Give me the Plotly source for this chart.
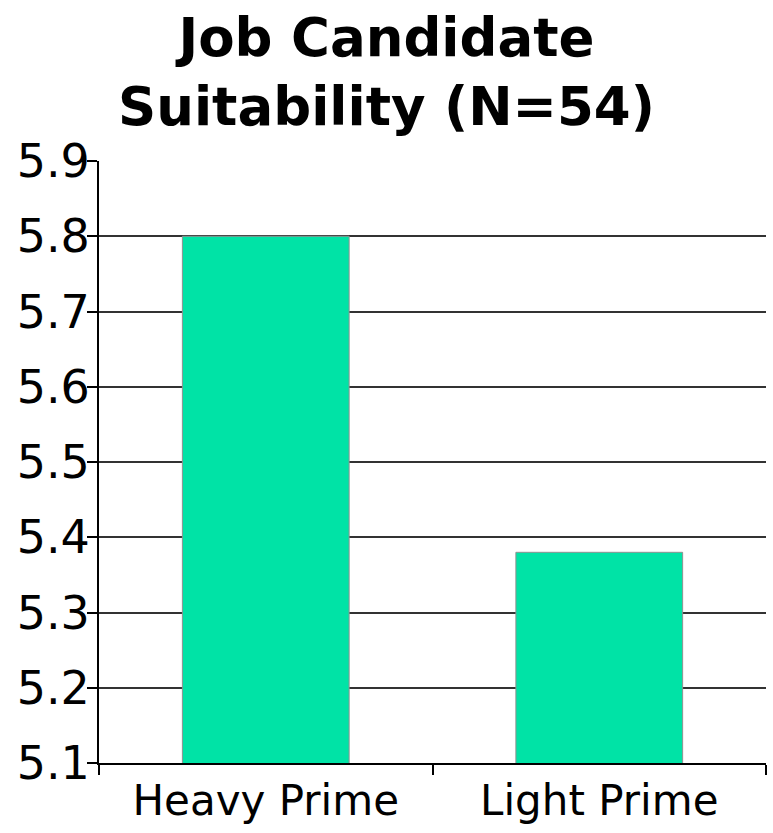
import plotly.graph_objects as go

categories = ["Heavy Prime", "Light Prime"]
values = [5.80, 5.38]
y_ticks = [5.1, 5.2, 5.3, 5.4, 5.5, 5.6, 5.7, 5.8, 5.9]
title_text = "Job Candidate<br>Suitability (N=54)"

fig = go.Figure(go.Bar(
    x=categories, y=values, width=0.5,
    marker=dict(color="#00E3A6", line=dict(color="#909090", width=1)),
))

fig.update_layout(
    width=773, height=833,
    margin=dict(l=99, r=7, t=161, b=70),
    paper_bgcolor="white", plot_bgcolor="white",
    font=dict(family="DejaVu Sans", color="black"),
    title=dict(text="<b>" + title_text + "</b>", x=0.5, xanchor="center",
               yref="container", y=1 - 56 / 833, yanchor="middle",
               font=dict(size=53, family="DejaVu Sans")),
    showlegend=False,
)
fig.update_yaxes(range=[5.1, 5.9], tickvals=y_ticks, ticktext=[f"{v:.1f}" for v in y_ticks],
                 showgrid=True, gridcolor="#333333", gridwidth=2,
                 showline=True, linecolor="black", linewidth=2,
                 ticks="outside", ticklen=10, tickcolor="black", tickwidth=2,
                 tickfont=dict(size=46), ticklabelstandoff=-12, zeroline=False)
fig.update_xaxes(showline=True, linecolor="black", linewidth=2,
                 ticks="outside", tickson="boundaries", ticklen=10, tickcolor="black", tickwidth=2,
                 tickfont=dict(size=42), showgrid=False, automargin=False)

fig.write_html("out.html")
